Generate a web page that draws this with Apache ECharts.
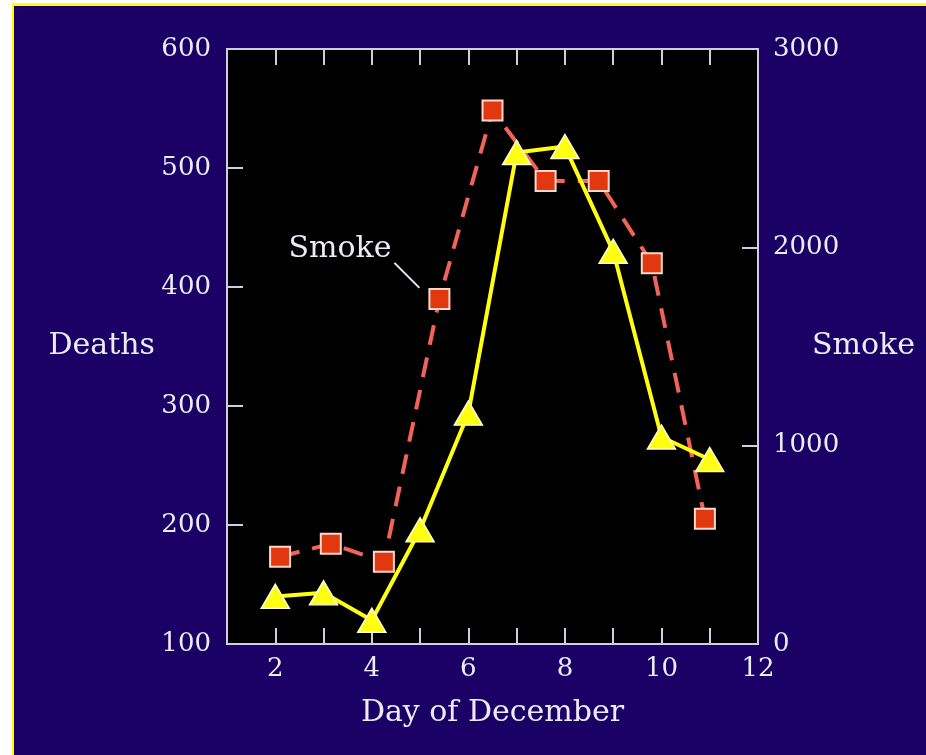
<!DOCTYPE html>
<html>
<head>
<meta charset="utf-8">
<title>Deaths and Smoke, December</title>
<script src="https://cdn.jsdelivr.net/npm/echarts@6/dist/echarts.min.js"></script>
<style>
  html, body { margin: 0; padding: 0; background: #fff; }
  #frame {
    position: absolute; left: 12px; top: 3px; width: 912px; height: 749px;
    border-left: 2px solid #ffff00; border-top: 3px solid #ffff00;
    background: #1b0066;
  }
  #chart { position: absolute; left: 0; top: 0; width: 926px; height: 755px; }
</style>
</head>
<body>
<div id="frame"></div>
<div id="chart"></div>
<script>
// day of December (deaths plotted on whole days)
var deathDays = [2, 3, 4, 5, 6, 7, 8, 9, 10, 11];
var deaths = [140, 143, 120, 196, 294, 513, 518, 430, 274, 255];
// smoke readings sit slightly to the right of each day
var smokeDays = [2.1, 3.15, 4.25, 5.4, 6.5, 7.6, 8.7, 9.8, 10.9];
var smoke = [440, 505, 415, 1740, 2690, 2335, 2335, 1920, 632];

var deathTicks = [100, 200, 300, 400, 500, 600];
var smokeTicks = [0, 1000, 2000, 3000];

var fontFamily = "'DejaVu Serif', 'Liberation Serif', serif";
var textColor = "#ecebf6";
var frameColor = "#cfcde6";

var chart = echarts.init(document.getElementById("chart"));

function pairs(xs, ys) {
  return xs.map(function (x, i) { return [x, ys[i]]; });
}

var tickStyle = { show: true, inside: true, length: 16, lineStyle: { color: frameColor, width: 2 } };

var option = {
  backgroundColor: "transparent",
  animation: false,
  grid: {
    show: true,
    left: 227,
    right: 168,
    top: 49,
    bottom: 111,
    outerBoundsMode: "none",
    containLabel: false,
    backgroundColor: "#000",
    borderColor: frameColor,
    borderWidth: 2
  },
  xAxis: [
    {
      type: "value",
      min: 1,
      max: 12,
      interval: 1,
      name: "Day of December",
      nameLocation: "middle",
      nameGap: 54,
      nameTextStyle: { color: textColor, fontFamily: fontFamily, fontSize: 30 },
      axisLine: { show: true, lineStyle: { color: frameColor, width: 2 } },
      axisTick: tickStyle,
      splitLine: { show: false },
      axisLabel: {
        color: textColor, fontFamily: fontFamily, fontSize: 26, margin: 12,
        showMinLabel: false, showMaxLabel: true,
        formatter: function (v) { return v % 2 === 0 ? String(v) : ""; }
      }
    },
    {
      type: "value",
      position: "top",
      min: 1,
      max: 12,
      interval: 1,
      axisLine: { show: true, lineStyle: { color: frameColor, width: 2 } },
      axisTick: tickStyle,
      splitLine: { show: false },
      axisLabel: { show: false }
    }
  ],
  yAxis: [
    {
      type: "value",
      min: deathTicks[0],
      max: deathTicks[deathTicks.length - 1],
      interval: 100,
      name: "Deaths",
      nameLocation: "middle",
      nameRotate: 0,
      nameGap: 72,
      nameMoveOverlap: false,
      nameTextStyle: { color: textColor, fontFamily: fontFamily, fontSize: 30 },
      axisLine: { show: true, lineStyle: { color: frameColor, width: 2 } },
      axisTick: tickStyle,
      splitLine: { show: false },
      axisLabel: { color: textColor, fontFamily: fontFamily, fontSize: 26, margin: 16 }
    },
    {
      type: "value",
      position: "right",
      min: smokeTicks[0],
      max: smokeTicks[smokeTicks.length - 1],
      interval: 1000,
      name: "Smoke",
      nameLocation: "middle",
      nameRotate: 0,
      nameGap: 54,
      nameMoveOverlap: false,
      nameTextStyle: { color: textColor, fontFamily: fontFamily, fontSize: 30 },
      axisLine: { show: true, lineStyle: { color: frameColor, width: 2 } },
      axisTick: tickStyle,
      splitLine: { show: false },
      axisLabel: {
        color: textColor, fontFamily: fontFamily, fontSize: 26, margin: 15,
        formatter: function (v) { return String(v); }
      }
    }
  ],
  series: [
    {
      name: "Smoke",
      type: "line",
      yAxisIndex: 1,
      data: pairs(smokeDays, smoke),
      symbol: "rect",
      symbolSize: 20,
      lineStyle: { color: "#f2645a", width: 4, type: [20, 13] },
      itemStyle: { color: "#e2380f", borderColor: "#ffd6cc", borderWidth: 2 },
      z: 2
    },
    {
      name: "Deaths",
      type: "line",
      data: pairs(deathDays, deaths),
      symbol: "triangle",
      symbolSize: [28, 24],
      lineStyle: { color: "#ffff10", width: 4 },
      itemStyle: { color: "#ffff10", borderColor: "#ffffd0", borderWidth: 1.5 },
      z: 3
    }
  ]
};

chart.setOption(option);

// "Smoke" callout, anchored to the 5.4 December smoke reading
var anchor = chart.convertToPixel({ xAxisIndex: 0, yAxisIndex: 1 }, [smokeDays[3], smoke[3]]);
chart.setOption({
  graphic: [
    {
      type: "line",
      shape: { x1: anchor[0] - 45, y1: anchor[1] - 36, x2: anchor[0] - 20, y2: anchor[1] - 11 },
      style: { stroke: "#e8e8f0", lineWidth: 2 },
      z: 10
    },
    {
      type: "text",
      x: anchor[0] - 48,
      y: anchor[1] - 50,
      style: {
        text: "Smoke",
        fill: textColor,
        font: "30px " + fontFamily,
        align: "right",
        verticalAlign: "middle"
      },
      z: 10
    }
  ]
});
</script>
</body>
</html>
